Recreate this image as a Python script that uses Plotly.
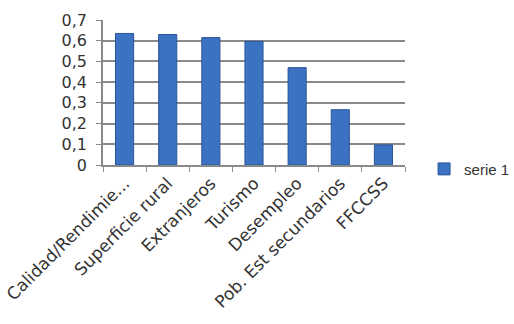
import plotly.graph_objects as go

categories = ["Calidad/Rendimie...", "Superficie rural", "Extranjeros", "Turismo",
              "Desempleo", "Pob. Est secundarios", "FFCCSS"]
values = [0.635, 0.63, 0.615, 0.597, 0.47, 0.267, 0.097]
series_name = "serie 1"
y_tickvals = [0, 0.1, 0.2, 0.3, 0.4, 0.5, 0.6, 0.7]
y_ticktext = ["0", "0,1", "0,2", "0,3", "0,4", "0,5", "0,6", "0,7"]

fig = go.Figure()
fig.add_trace(go.Bar(
    x=categories, y=values, name=series_name,
    marker=dict(color="#3b72c2", line=dict(color="#2a5598", width=1)),
    showlegend=True,
))

fig.update_layout(
    width=514, height=324,
    margin=dict(l=103, r=109, t=20, b=159),
    paper_bgcolor="white", plot_bgcolor="white",
    bargap=0.58,
    separators=", ",
    font=dict(family="DejaVu Sans", color="#333333"),
    showlegend=True,
    legend=dict(xref="container", yref="container", x=0.825, y=0.478,
                xanchor="left", yanchor="middle",
                font=dict(family="Liberation Sans", size=15, color="#333333"),
                itemwidth=30, tracegroupgap=0, bgcolor="rgba(0,0,0,0)"),
)
fig.update_xaxes(
    tickangle=-45, tickfont=dict(size=17, color="#333333"),
    showline=True, linecolor="#8a8a8a", linewidth=1.5,
    ticks="outside", tickson="boundaries", ticklen=5, tickcolor="#8a8a8a",
    showgrid=False, automargin=False,
)
fig.update_yaxes(
    range=[0, 0.7], tickvals=y_tickvals, ticktext=y_ticktext,
    tickfont=dict(size=16, color="#333333"),
    showline=True, linecolor="#8a8a8a", linewidth=1.5,
    ticks="outside", ticklen=5, tickcolor="#8a8a8a", ticklabelstandoff=6,
    showgrid=True, gridcolor="#8a8a8a", gridwidth=1.5,
    zeroline=False, automargin=False,
)

fig.write_html("out.html")
